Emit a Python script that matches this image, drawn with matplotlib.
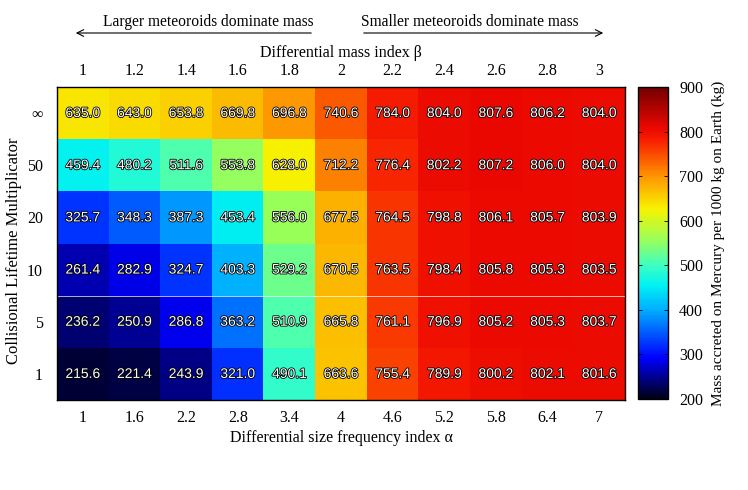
import matplotlib
matplotlib.use("Agg")
import matplotlib.pyplot as plt
import matplotlib.patheffects as pe
from matplotlib.colors import LinearSegmentedColormap
import numpy as np

plt.rcParams["font.family"] = "Liberation Serif"

# size frequency index alpha (bottom) and mass index beta (top)
alpha_labels = ["1", "1.6", "2.2", "2.8", "3.4", "4", "4.6", "5.2", "5.8", "6.4", "7"]
beta_labels = ["1", "1.2", "1.4", "1.6", "1.8", "2", "2.2", "2.4", "2.6", "2.8", "3"]
# collisional lifetime multiplicator, bottom to top
clm_labels = ["1", "5", "10", "20", "50", "\u221e"]

# mass accreted on Mercury (kg) per 1000 kg on Earth, rows bottom to top
mass = np.array([
    [215.6, 221.4, 243.9, 321.0, 490.1, 663.6, 755.4, 789.9, 800.2, 802.1, 801.6],
    [236.2, 250.9, 286.8, 363.2, 510.9, 665.8, 761.1, 796.9, 805.2, 805.3, 803.7],
    [261.4, 282.9, 324.7, 403.3, 529.2, 670.5, 763.5, 798.4, 805.8, 805.3, 803.5],
    [325.7, 348.3, 387.3, 453.4, 556.0, 677.5, 764.5, 798.8, 806.1, 805.7, 803.9],
    [459.4, 480.2, 511.6, 553.8, 628.0, 712.2, 776.4, 802.2, 807.2, 806.0, 804.0],
    [635.0, 643.0, 653.8, 669.8, 696.8, 740.6, 784.0, 804.0, 807.6, 806.2, 804.0],
])

vmin, vmax = 200, 900
fs = 11.5

# gnuplot-ish jet palette going from black to dark red
stops = [
    (0.00, (0.00, 0.00, 0.08)),
    (0.13, (0.00, 0.00, 1.00)),
    (0.29, (0.00, 0.70, 1.00)),
    (0.365, (0.00, 0.95, 0.95)),
    (0.43, (0.25, 1.00, 0.75)),
    (0.51, (0.60, 1.00, 0.35)),
    (0.61, (0.97, 0.95, 0.00)),
    (0.715, (1.00, 0.58, 0.00)),
    (0.83, (0.97, 0.12, 0.00)),
    (0.87, (0.92, 0.03, 0.00)),
    (1.00, (0.45, 0.00, 0.00)),
]
cmap = LinearSegmentedColormap.from_list("meteor", stops)

fig = plt.figure(figsize=(7.48, 4.9), dpi=100)
W, H = 748, 490

def px_axes(x0, y0, x1, y1):
    return fig.add_axes([x0 / W, 1 - y1 / H, (x1 - x0) / W, (y1 - y0) / H])

ax = px_axes(57, 87, 625, 400)
ny, nx = mass.shape
im = ax.imshow(mass, cmap=cmap, vmin=vmin, vmax=vmax, origin="lower",
               aspect="auto", interpolation="nearest",
               extent=(-0.5, nx - 0.5, -0.5, ny - 0.5))

for j in range(ny):
    for i in range(nx):
        ax.text(i, j, f"{mass[j, i]:.1f}", ha="center", va="center",
                color="white", fontsize=10, family="Liberation Sans",
                path_effects=[pe.withStroke(linewidth=1.2, foreground="black")])

# faint artefact line seen in the original
ax.axhline(1.5, color="white", lw=0.6, alpha=0.8)

ax.set_xticks(range(nx))
ax.set_xticklabels(alpha_labels, fontsize=fs)
ax.set_yticks(range(ny))
ax.set_yticklabels(clm_labels, fontsize=fs)
ax.tick_params(axis="x", length=0, pad=7)
ax.tick_params(axis="y", length=0, pad=10)
ax.set_xlabel("Differential size frequency index \u03b1", fontsize=fs, labelpad=3)
ax.set_ylabel("Collisional Lifetime Multiplicator", fontsize=12)
ax.yaxis.set_label_coords(-35 / 568, 0.476)

top = ax.secondary_xaxis("top")
top.set_xticks(range(nx))
top.set_xticklabels(beta_labels, fontsize=fs)
top.tick_params(length=0, pad=6)
top.set_xlabel("Differential mass index \u03b2", fontsize=fs, labelpad=4)

for s in ax.spines.values():
    s.set_linewidth(1.0)
top.spines["top"].set_visible(False)

cax = px_axes(638, 87, 668, 399)
cb = fig.colorbar(im, cax=cax, ticks=range(200, 901, 100))
cb.ax.tick_params(labelsize=fs, direction="in", length=3, width=0.6,
                  left=True, right=True, pad=8)
cb.outline.set_linewidth(1.0)
cb.set_label("Mass accreted on Mercury per 1000 kg on Earth (kg)", fontsize=11,
             labelpad=6)

# arrows above the beta axis
fig.text(208 / W, 1 - 22 / H, "Larger meteoroids dominate mass",
         ha="center", va="center", fontsize=11.2)
fig.text(470 / W, 1 - 22 / H, "Smaller meteoroids dominate mass",
         ha="center", va="center", fontsize=11.2)
arrow = dict(arrowstyle="->", lw=0.8, color="black", mutation_scale=12)
fig.add_artist(matplotlib.patches.FancyArrowPatch(
    (314 / W, 1 - 33 / H), (73 / W, 1 - 33 / H), transform=fig.transFigure, **arrow))
fig.add_artist(matplotlib.patches.FancyArrowPatch(
    (361 / W, 1 - 33 / H), (606 / W, 1 - 33 / H), transform=fig.transFigure, **arrow))

fig.savefig("out.png", dpi=100)
